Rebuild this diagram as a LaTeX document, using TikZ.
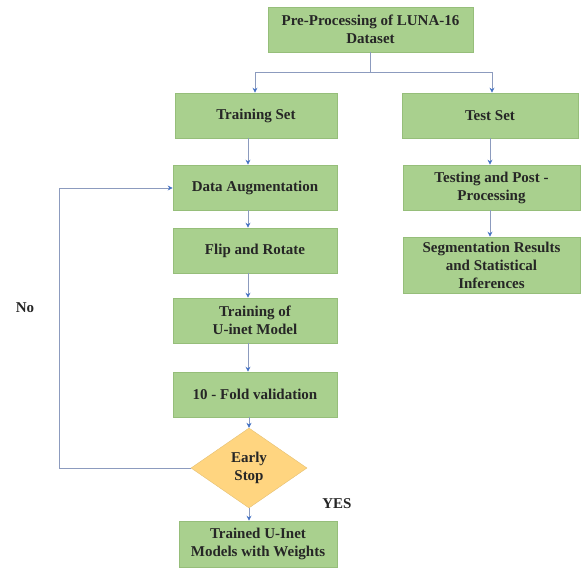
\documentclass[tikz,border=0pt]{standalone}
\usepackage{fontspec}
\setmainfont{Liberation Serif}
\usetikzlibrary{shapes.geometric,arrows.meta}
\definecolor{boxgreen}{RGB}{169,208,142}
\definecolor{boxedge}{RGB}{150,190,122}
\definecolor{diafill}{RGB}{255,213,128}
\definecolor{lineclr}{RGB}{140,155,190}
\definecolor{tipclr}{RGB}{68,114,196}
\tikzset{
  gbox/.style={draw=boxedge, line width=0.6pt, fill=boxgreen, align=center, inner sep=0pt,
    font=\fontsize{15}{18}\selectfont\bfseries, text=black!85},
  dbox/.style={diamond, draw=diafill!90!black, line width=0.4pt, fill=diafill, align=center, inner sep=0pt,
    minimum width=116pt, minimum height=80pt, aspect=1.45,
    font=\fontsize{15}{18}\selectfont\bfseries, text=black!85},
  conn/.style={draw=lineclr, line width=0.7pt},
  arr/.style={conn, -{Stealth[length=5pt,width=5pt,color=tipclr]}},
  lbl/.style={font=\fontsize{15}{18}\selectfont\bfseries, text=black!85}
}
\begin{document}
\begin{tikzpicture}[x=1pt,y=-1pt]
\useasboundingbox (0,0) rectangle (581,568);
\node[gbox, minimum width=205pt, minimum height=45pt] (pre) at (370.5,29.5) {Pre-Processing of LUNA-16\\Dataset};
\node[gbox, minimum width=162pt, minimum height=45pt] (train) at (256,115.5) {Training Set};
\node[gbox, minimum width=176pt, minimum height=45pt] (test) at (490,115.5) {Test Set};
\node[gbox, minimum width=164pt, minimum height=45pt] (aug) at (255,187.5) {Data Augmentation};
\node[gbox, minimum width=164pt, minimum height=45pt] (flip) at (255,250.5) {Flip and Rotate};
\node[gbox, minimum width=164pt, minimum height=45pt] (unet) at (255,320.5) {Training of\\U-inet Model};
\node[gbox, minimum width=164pt, minimum height=45pt] (fold) at (255,394.5) {10 - Fold validation};
\node[dbox] (stop) at (249,468) {Early\\Stop};
\node[gbox, minimum width=158pt, minimum height=46pt] (trained) at (258,544) {Trained U-Inet\\Models with Weights};
\node[gbox, minimum width=177pt, minimum height=45pt] (testing) at (491.5,187.5) {Testing and Post -\\Processing};
\node[gbox, minimum width=177pt, minimum height=56pt] (seg) at (491.5,265) {Segmentation Results\\and Statistical\\Inferences};
\node[lbl] (no) at (25,308) {No};
\node[lbl] (yes) at (337,504) {YES};
\coordinate (split) at (370.5,72);
\coordinate (lsplit) at (255,72);
\coordinate (rsplit) at (492,72);
\coordinate (loopb) at (59,468);
\coordinate (loopt) at (59,188);
\draw[conn] (pre.south) -- (split);
\draw[conn] (lsplit) -- (rsplit);
\draw[arr] (lsplit) -- (lsplit |- train.north);
\draw[arr] (rsplit) -- (rsplit |- test.north);
\draw[arr] ([xshift=-8pt]train.south) -- ([xshift=-8pt]train.south |- aug.north);
\draw[arr] ([xshift=-7pt]aug.south) -- ([xshift=-7pt]flip.north);
\draw[arr] ([xshift=-7pt]flip.south) -- ([xshift=-7pt]unet.north);
\draw[arr] ([xshift=-7pt]unet.south) -- ([xshift=-7pt]fold.north);
\draw[arr] (stop.north |- fold.south) -- (stop.north);
\draw[arr] (stop.south) -- (stop.south |- trained.north);
\draw[arr] (stop.west) -- (loopb) -- (loopt) -- (aug.west |- loopt);
\draw[arr] (test.south) -- (test.south |- testing.north);
\draw[arr] (test.south |- testing.south) -- (test.south |- seg.north);
\end{tikzpicture}
\end{document}
